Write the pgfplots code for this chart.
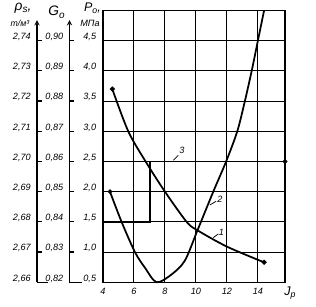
\documentclass[border=0pt]{standalone}
\usepackage{fontspec}
\setmainfont{Liberation Sans}
\usepackage{pgfplots}
\pgfplotsset{compat=1.18}
\begin{document}
\begin{tikzpicture}[font=\itshape]
\pgfplotsset{
  sidescale/.style={
    scale only axis, width=10pt, height=209.7pt,
    xmin=0, xmax=1, ymin=0.5, ymax=4.84,
    axis y line*=left, hide x axis,
    y axis line style={line width=0.9pt,-stealth},
    ytick={0.5,1,1.5,2,2.5,3,3.5,4,4.5},
    tick align=inside, major tick length=4pt,
    tick style={line width=0.9pt, black},
    yticklabel style={font=\fontsize{7.3}{8}\selectfont\itshape, yshift=3pt, xshift=-1.5pt},
  }
}
% rho_s scale
\begin{axis}[sidescale, at={(-52.8pt,0pt)},
  yticklabels={{2{,}66},{2{,}67},{2{,}68},{2{,}69},{2{,}70},{2{,}71},{2{,}72},{2{,}73},{2{,}74}}]
\addplot[draw=none] coordinates {(0,1)};
\draw[line width=0.9pt] (axis cs:0,0.5) -- ++(8.8pt,0pt);
\end{axis}
% G0 scale
\begin{axis}[sidescale, at={(-26.8pt,0pt)},
  yticklabels={{0{,}82},{0{,}83},{0{,}84},{0{,}85},{0{,}86},{0{,}87},{0{,}88},{0{,}89},{0{,}90}}]
\addplot[draw=none] coordinates {(0,1)};
\draw[line width=0.9pt] (axis cs:0,0.5) -- ++(10.8pt,0pt);
\end{axis}
% main axis
\begin{axis}[
  scale only axis, width=145.6pt, height=217.4pt,
  xmin=4, xmax=15.75, ymin=0.5, ymax=5,
  xtick={4,6,8,10,12,14}, xticklabels={4,6,8,10,12,14},
  ytick={0.5,1,1.5,2,2.5,3,3.5,4,4.5},
  yticklabels={{0{,}5},{1{,}0},{1{,}5},{2{,}0},{2{,}5},{3{,}0},{3{,}5},{4{,}0},{4{,}5}},
  grid=major, grid style={black, line width=0.8pt},
  axis line style={line width=1pt},
  major tick length=0pt,
  clip=false,
  ticklabel style={font=\fontsize{7.3}{8}\selectfont\itshape},
  yticklabel style={yshift=3pt, xshift=-2pt},
  xticklabel style={yshift=-1pt},
]
% curve 1
\addplot[black, line width=1.4pt, smooth, mark=*, mark size=1.2pt, mark indices={1,8}]
coordinates {(4.6,3.7)(5.63,3.0)(6.75,2.5)(8.0,2.0)(9.4,1.5)(10.1,1.36)(12.0,1.09)(14.4,0.83)};
% curve 2
\addplot[black, line width=1.4pt, smooth, mark=*, mark size=1.0pt, mark indices={1}]
coordinates {(4.45,2.0)(5.2,1.5)(6.06,1.0)(6.71,0.74)(7.46,0.5)(8.43,0.63)(9.29,0.86)(10.1,1.36)(11.12,2.0)(11.95,2.5)(12.67,3.0)(13.16,3.5)(13.6,4.0)(14.0,4.5)(14.4,5.0)};
% curve 3
\addplot[black, line width=1.4pt, mark=*, mark size=1.1pt, mark indices={4}]
coordinates {(4,1.5)(7.03,1.5)(7.03,2.5)(15.75,2.5)};
% labels
\draw[line width=0.6pt] (axis cs:8.54,2.52) -- (axis cs:8.86,2.6);
\node[font=\fontsize{7.3}{8}\selectfont\itshape] at (axis cs:9.1,2.68) {3};
\draw[line width=0.6pt] (axis cs:11.12,1.24) -- (axis cs:11.45,1.3);
\node[font=\fontsize{7.3}{8}\selectfont\itshape] at (axis cs:11.65,1.32) {1};
\draw[line width=0.6pt] (axis cs:10.9,1.78) -- (axis cs:11.3,1.84);
\node[font=\fontsize{7.3}{8}\selectfont\itshape] at (axis cs:11.55,1.88) {2};
\end{axis}
% titles
\node[font=\fontsize{11}{12}\selectfont\itshape] at (-64pt,219pt) {ρ\raisebox{-0.3ex}{\fontsize{8}{9}\selectfont s},};
\node[font=\fontsize{7}{8}\selectfont\itshape] at (-66.4pt,207.3pt) {т/м³};
\node[font=\fontsize{11}{12}\selectfont\itshape] at (-37.2pt,216pt) {G\raisebox{-0.4ex}{\fontsize{8}{9}\selectfont o}};
\node[font=\fontsize{10}{11}\selectfont\itshape] at (-8.4pt,219pt) {P\raisebox{-0.3ex}{\fontsize{7}{8}\selectfont o},};
\node[font=\fontsize{7.3}{8}\selectfont\itshape] at (-10.4pt,207.4pt) {МПа};
\node[font=\fontsize{10}{11}\selectfont\itshape] at (149.6pt,-8.6pt) {J\raisebox{-0.4ex}{\fontsize{7}{8}\selectfont p}};
\pgfresetboundingbox
\path[use as bounding box] (-82.4pt,-19.8pt) rectangle (170.4pt,225.8pt);
\end{tikzpicture}
\end{document}
